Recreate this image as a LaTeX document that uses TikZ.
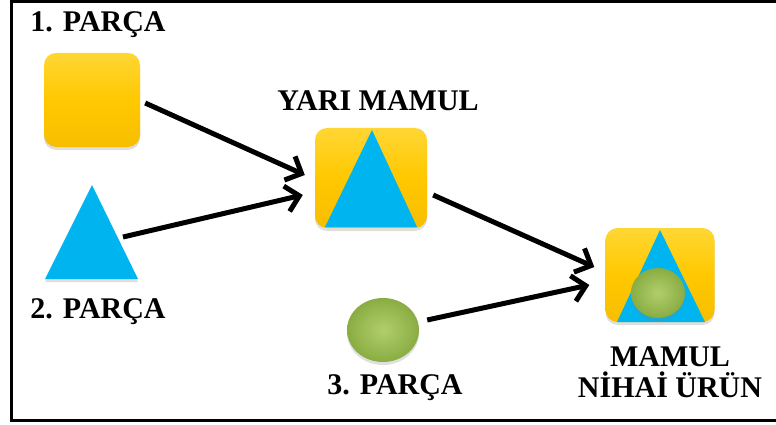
\documentclass[tikz,border=0pt]{standalone}
\usepackage{fontspec}
\setmainfont{Liberation Serif}
\usetikzlibrary{arrows.meta,shadows,shapes.geometric}
\definecolor{gold}{HTML}{FFC800}
\definecolor{goldtop}{HTML}{FFD633}
\definecolor{goldbot}{HTML}{F7BE00}
\definecolor{skyb}{HTML}{00B4F0}
\definecolor{leafhi}{HTML}{B2CE6C}
\definecolor{leaflo}{HTML}{89AD42}
\begin{document}
\begin{tikzpicture}[x=1pt,y=-1pt,
  sqbox/.style={rectangle, rounded corners=12pt, inner sep=0pt,
    top color=goldtop, bottom color=goldbot, middle color=gold,
    drop shadow={opacity=0.25, shadow xshift=0pt, shadow yshift=-3pt}},
  ball/.style={ellipse, inner sep=0pt, inner color=leafhi, outer color=leaflo,
    drop shadow={opacity=0.25, shadow xshift=0pt, shadow yshift=-3pt}},
  tri/.style={fill=skyb},
  lbl/.style={font=\bfseries\fontsize{30}{33}\selectfont, inner sep=0pt, align=center},
  arr/.style={line width=5pt, -{Straight Barb[length=13pt, width=26pt, line width=5pt]}}
]
\useasboundingbox (0,0) rectangle (776,425);
\clip (0,0) rectangle (776,425);
\draw[line width=3pt] (11,2) rectangle (800,420);

% 1. PARCA
\node[sqbox, minimum width=96pt, minimum height=94pt] (sq1) at (92,100) {};
\node[lbl] (l1) at (98,25) {1. PARÇA};

% 2. PARCA
\coordinate (tri2) at (92,240);
\fill[tri, drop shadow={opacity=0.25, shadow xshift=0pt, shadow yshift=-3pt}]
  (92,185) -- (138,279) -- (45,279) -- cycle;
\node[lbl] (l2) at (98,312) {2. PARÇA};

% YARI MAMUL
\node[sqbox, minimum width=112pt, minimum height=100pt] (ym) at (371,178) {};
\fill[tri] (372,130) -- (417,227) -- (325,227) -- cycle;
\node[lbl] (l3) at (378,101) {YARI MAMUL};

% 3. PARCA
\node[ball, minimum width=72pt, minimum height=64pt] (c3) at (383,330) {};
\node[lbl] (l4) at (395,388) {3. PARÇA};

% MAMUL
\node[sqbox, minimum width=109pt, minimum height=94pt] (fin) at (660,275) {};
\fill[tri] (660,230) -- (705,322) -- (617,322) -- cycle;
\node[ball, minimum width=54pt, minimum height=50pt] (fc) at (658,293) {};
\node[lbl] (l5) at (670,372) {MAMUL\\[-2pt]NİHAİ ÜRÜN};

% arrows
\draw[arr] ([shift={(5,3)}]sq1.east) -- ([shift={(-10,-3)}]ym.west);
\draw[arr] ([shift={(31,-3)}]tri2) -- ([shift={(-12,17)}]ym.west);
\draw[arr] ([shift={(6,17)}]ym.east) -- ([shift={(-11,-8)}]fin.west);
\draw[arr] ([shift={(8,-10)}]c3.east) -- ([shift={(-16,10)}]fin.west);
\end{tikzpicture}
\end{document}
